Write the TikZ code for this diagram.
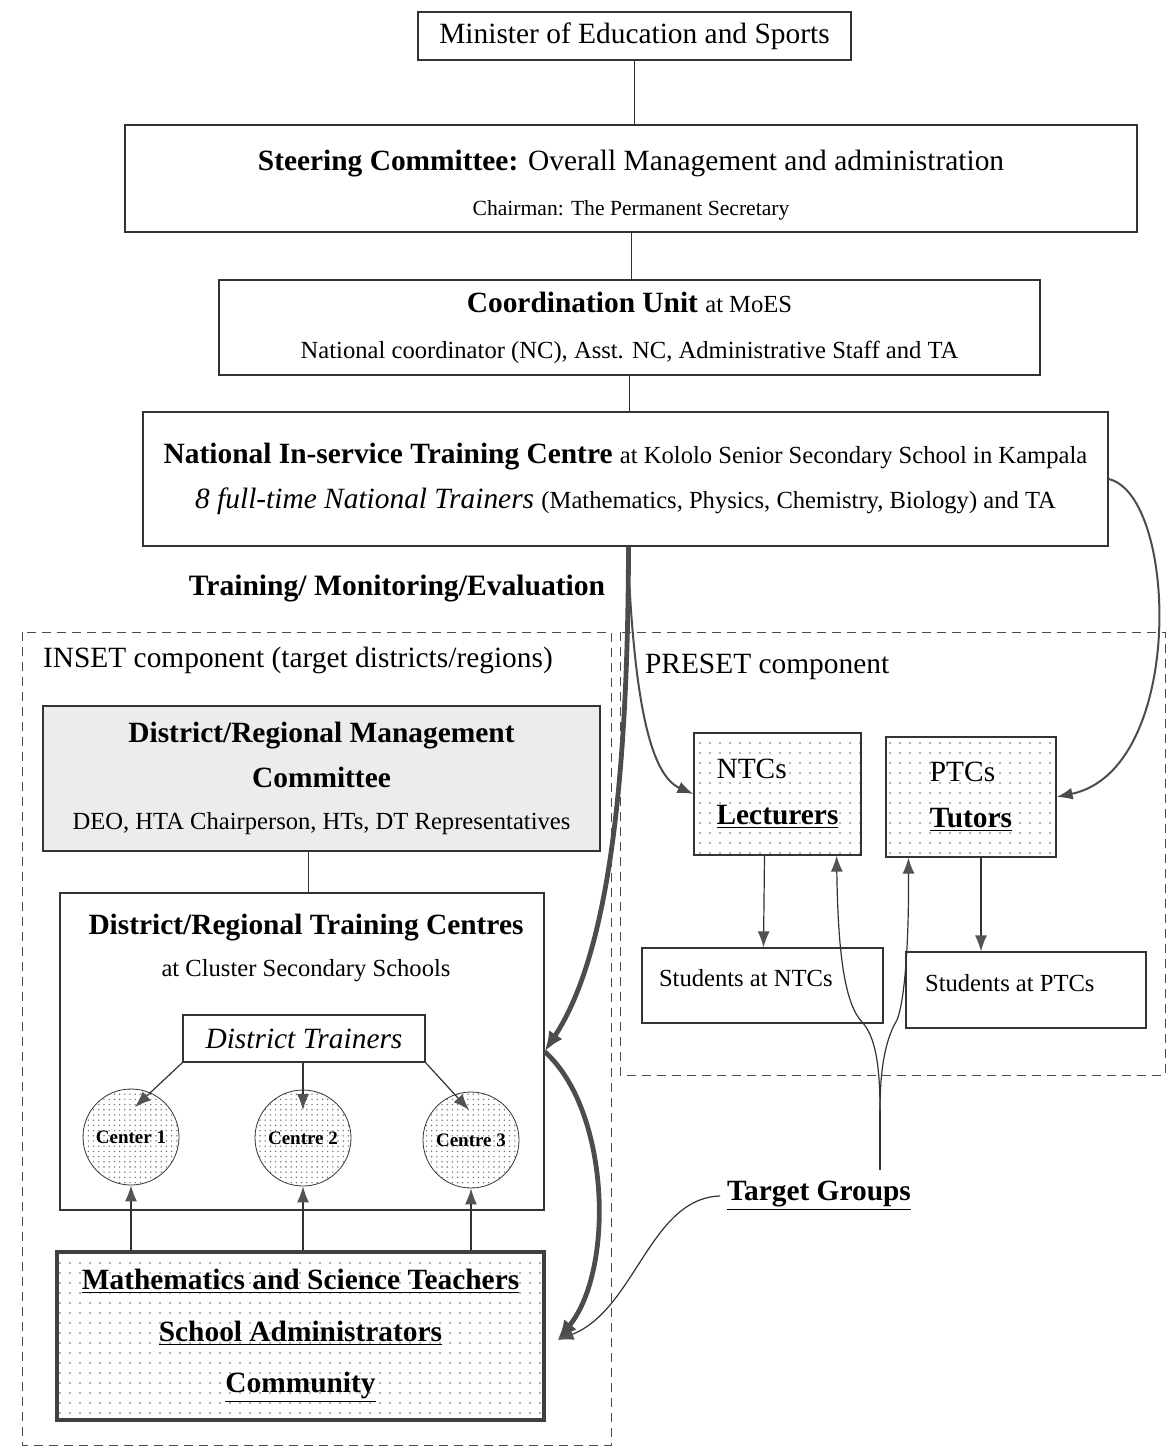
\documentclass[tikz,border=0pt]{standalone}
\usepackage{fontspec}
\setmainfont{Liberation Serif}
\usetikzlibrary{arrows.meta,patterns.meta,calc}
\newcommand{\fsL}{\fontsize{14.7}{17.5}\selectfont}
\newcommand{\fsM}{\fontsize{12.3}{15}\selectfont}
\newcommand{\fsS}{\fontsize{10.8}{13}\selectfont}

\begin{document}
\begin{tikzpicture}[x=0.5pt,y=-0.5pt]
   \useasboundingbox (0,0) rectangle (1169,1453);
   \tikzstyle{box}=[draw=black!80, line width=0.6pt, inner sep=0pt, align=center]
   \tikzstyle{dotbox}=[box, pattern={Dots[distance=5pt,radius=0.4pt]}, pattern color=black!60]
   \tikzstyle{centre}=[circle, draw=black!80, minimum size=48pt, inner sep=0pt, pattern={Dots[distance=2.6pt,radius=0.4pt]}, pattern color=black!55, font=\bfseries\fontsize{9.5}{11}\selectfont]
   \tikzstyle{thin}=[draw=black!80, line width=0.6pt, -{Latex[length=8pt,width=6pt,color=gray!65!black]}]
   \tikzstyle{grey}=[draw=gray!60!black, line width=1pt, -{Latex[length=8pt,width=6pt]}]
   \tikzstyle{heavy}=[draw=gray!60!black, line width=2.4pt, -{Latex[length=10pt,width=8pt]}]
   \tikzstyle{region}=[draw=black!70, line width=0.5pt, dash pattern=on 4.5pt off 3pt]
   % ministry chain
   \node[box, minimum width=216.5pt, minimum height=24pt] (minister) at (634.5,36) {\fsL Minister of Education and Sports};
   \node[box, minimum width=506pt, minimum height=53.5pt] (steering) at (631,178.5)
      {\fsL\rule{0pt}{16.5pt}\textbf{Steering Committee:} Overall Management and administration\\[10.5pt]\fsS Chairman: The Permanent Secretary};
   \node[box, minimum width=410.5pt, minimum height=47.5pt] (coord) at (629.5,327.5)
      {\fsL\textbf{Coordination Unit} \fsM at MoES\\[11pt]\fsM National coordinator (NC), Asst. NC, Administrative Staff and TA};
   \node[box, minimum width=482.5pt, minimum height=67pt] (nitc) at (625.5,479)
      {\fsL\textbf{National In-service Training Centre} \fsM at Kololo Senior Secondary School in Kampala\\[7.5pt]
       \fsL\textit{8 full-time National Trainers} \fsM (Mathematics, Physics, Chemistry, Biology) and TA};
   \draw[black!80] (minister.south) -- (minister.south |- steering.north);
   \draw[black!80] (steering.south) -- (steering.south |- coord.north);
   \draw[black!80] (coord.south) -- (coord.south |- nitc.north);
   \node (tme) at (397,588) {\fontsize{14.8}{18}\selectfont\bfseries Training/ Monitoring/Evaluation};
   % components
   \draw[region] (22,632) rectangle (611,1445);
   \draw[region] (620,632) rectangle (1165,1075);
   \node[anchor=west] (insetlbl) at (36,660) {\fsL INSET component (target districts/regions)};
   \node[anchor=west] (presetlbl) at (638,667) {\fsL PRESET component};
   % INSET
   \node[box, fill=gray!15, minimum width=278.5pt, minimum height=72.5pt] (drmc) at (321.5,778.5)
      {\fsL\bfseries District/Regional Management\\[8pt]\fsL\bfseries Committee\\[9pt]\fsM DEO, HTA Chairperson, HTs, DT Representatives};
   \node[box, minimum width=242pt, minimum height=158.5pt] (drtc) at (302,1051.5) {};
   \node[align=center] (drtctxt) at (306,948) {\fsL\bfseries District/Regional Training Centres\\[9pt]\fsM at Cluster Secondary Schools};
   \draw[black!80] (drmc.south -| 308,0) -- (drtc.north -| 308,0);
   \node[box, minimum width=121pt, minimum height=23.5pt] (dtrain) at (304,1038.5) {\fsL\itshape District Trainers};
   \node[centre] (c1) at (131,1137) {Center 1};
   \node[centre] (c2) at (303,1138) {Centre 2};
   \node[centre] (c3) at (471,1140) {Centre 3};
   \draw[thin] (dtrain.south west) -- ($(c1)+(4,-30)$);
   \draw[thin] (dtrain.south -| c2) -- ($(c2)+(0,-28)$);
   \draw[thin] (dtrain.south east) -- ($(c3)+(-2,-30)$);
   \node[dotbox, draw=black!75, line width=1.6pt, minimum width=243.5pt, minimum height=84pt] (mst) at (300.5,1336)
      {\fsL\bfseries\underline{Mathematics and Science Teachers}\\[12.5pt]\fsL\bfseries\underline{School Administrators}\\[12.5pt]\fsL\bfseries\underline{Community}};
   \foreach \c in {c1,c2,c3} {
      \draw[thin] (mst.north -| \c) -- (\c.south);
   }
   \coordinate (mstin) at ($(mst.east)+(12,4)$);
   % PRESET
   \node[dotbox, minimum width=83.5pt, minimum height=61pt, align=left] (ntc) at (777.5,794)
      {\fsL NTCs\\[11pt]\fsL\bfseries\underline{Lecturers}};
   \node[dotbox, minimum width=85pt, minimum height=60pt, align=left] (ptc) at (971,797)
      {\fsL PTCs\\[11pt]\fsL\bfseries\underline{Tutors}};
   \node[box, minimum width=120.5pt, minimum height=37.5pt] (snts) at (762.5,985.5) {};
   \node[anchor=west] (sntstxt) at (652,978) {\fsM Students at NTCs};
   \node[box, minimum width=120pt, minimum height=38pt] (spts) at (1026,990) {};
   \node[anchor=west] (sptstxt) at (918,983) {\fsM Students at PTCs};
   \draw[thin] ($(ntc.south)+(-13,0)$) -- ($(snts.north)+(1,0)$);
   \draw[thin] ($(ptc.south)+(10,0)$) -- ($(spts.north)+(-45,0)$);
   % target groups
   \node (tg) at (819,1196) {\fsL\bfseries\underline{Target Groups}};
   \coordinate (fork) at (880,1110);
   \draw[black!80, line width=0.6pt] ($(fork |- tg.north)+(0,-4)$) -- (fork);
   \draw[thin] (fork) .. controls (880,1060) and (874,1035) .. (862,1022) .. controls (846,1005) and (838,960) .. ($(ntc.south east)+(-25,0)$);
   \draw[thin] (fork) .. controls (880,1060) and (888,1035) .. (897,1020) .. controls (905,1000) and (909,940) .. ($(ptc.south west)+(23,0)$);
   \draw[thin] (tg.west) .. controls (650,1198) and (635,1310) .. (mstin);
   % training flows
   \draw[heavy] ($(nitc.south)+(3,0)$) .. controls (628,800) and (605,960) .. (drtc.east);
   \draw[heavy] (drtc.east) .. controls (610,1110) and (615,1270) .. (mstin);
   \draw[grey] ($(nitc.south)+(4,40)$) .. controls (636,700) and (650,775) .. (ntc.west);
   \draw[grey] (nitc.east) .. controls (1178,495) and (1186,770) .. (ptc.east);
\end{tikzpicture}
\end{document}
